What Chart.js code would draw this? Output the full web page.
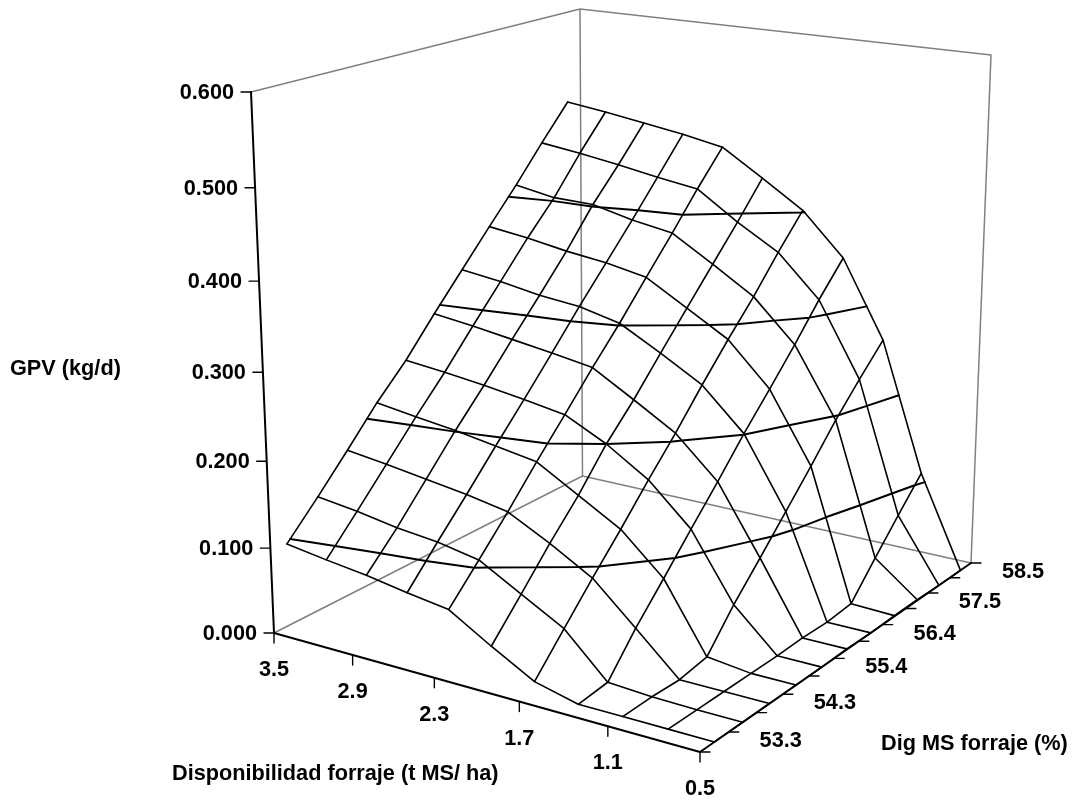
<!DOCTYPE html>
<html lang="es">
<head>
    <meta charset="UTF-8">
    <title>GPV</title>
    <script src="https://cdn.jsdelivr.net/npm/chart.js"></script>
    <style>
        body { margin: 0; background: #fff; }
        canvas { display: block; }
    </style>
</head>
<body>
    <canvas id="grafica" width="1076" height="802"></canvas>
    <script>
        // datos
        const availLevels = [3.5, 3.2, 2.9, 2.6, 2.3, 2.0, 1.7, 1.4, 1.1, 0.8, 0.5];
        const digLevels = [53.06, 53.58, 54.09, 54.61, 55.13, 55.65, 56.17, 56.69, 57.21, 57.72, 58.24];
        // una fila por cada nivel de disponibilidad, una columna por cada nivel de digestibilidad
        const gpvGrid = [
            [0.096, 0.134, 0.173, 0.214, 0.250, 0.292, 0.332, 0.372, 0.411, 0.452, 0.492],
            [0.089, 0.128, 0.167, 0.207, 0.245, 0.286, 0.326, 0.366, 0.403, 0.446, 0.486],
            [0.083, 0.120, 0.160, 0.201, 0.239, 0.279, 0.318, 0.358, 0.402, 0.439, 0.479],
            [0.075, 0.115, 0.153, 0.193, 0.232, 0.272, 0.313, 0.352, 0.391, 0.431, 0.472],
            [0.068, 0.106, 0.144, 0.185, 0.224, 0.264, 0.302, 0.343, 0.383, 0.424, 0.463],
            [0.039, 0.079, 0.119, 0.157, 0.200, 0.236, 0.276, 0.315, 0.354, 0.392, 0.433],
            [0.012, 0.052, 0.091, 0.129, 0.169, 0.207, 0.248, 0.287, 0.324, 0.364, 0.402],
            [0.000, 0.004, 0.046, 0.084, 0.123, 0.161, 0.201, 0.238, 0.276, 0.316, 0.353],
            [0.000, 0.001, 0.000, 0.006, 0.047, 0.083, 0.120, 0.157, 0.196, 0.230, 0.263],
            [0.000, 0.000, 0.000, 0.000, 0.000, 0.001, 0.000, 0.003, 0.040, 0.075, 0.110],
            [0.000, 0.000, 0.000, 0.000, 0.000, 0.001, 0.000, 0.001, 0.001, 0.000, 0.000]
        ];
        const contourLevels = [0.1, 0.2, 0.3, 0.4, 0.5];
        const gpvTicks = [0, 0.1, 0.2, 0.3, 0.4, 0.5, 0.6];
        const gpvTickLabels = ['0.000', '0.100', '0.200', '0.300', '0.400', '0.500', '0.600'];
        const availTicks = [3.5, 2.9, 2.3, 1.7, 1.1, 0.5];
        const availTickLabels = ['3.5', '2.9', '2.3', '1.7', '1.1', '0.5'];
        const digTicks = [52.8, 53.32, 53.84, 54.35, 54.87, 55.39, 55.91, 56.43, 56.95, 57.46, 57.98, 58.5];
        const digTickLabels = ['', '53.3', '', '54.3', '', '55.4', '', '56.4', '', '57.5', '', '58.5'];

        // vista de la caja: esquinas del piso y del techo en pixeles
        const floorCorners = [[274, 633], [700, 752], [971, 563], [582.5, 476]];
        const topCorners = [[251, 92], [702, 155], [991, 55], [580, 9]];
        const gpvMax = 0.6, availMax = 3.5, availMin = 0.5, digMin = 52.8, digMax = 58.5;

        function quadMap(corners) {
            const [A, B, C, D] = corners;
            const sx = A[0] - B[0] + C[0] - D[0], sy = A[1] - B[1] + C[1] - D[1];
            const dx1 = B[0] - C[0], dx2 = D[0] - C[0], dy1 = B[1] - C[1], dy2 = D[1] - C[1];
            const det = dx1 * dy2 - dx2 * dy1;
            const g = (sx * dy2 - dx2 * sy) / det, h = (dx1 * sy - sx * dy1) / det;
            const a = B[0] - A[0] + g * B[0], b = D[0] - A[0] + h * D[0];
            const d = B[1] - A[1] + g * B[1], e = D[1] - A[1] + h * D[1];
            return function (u, v) {
                const w = g * u + h * v + 1;
                return [(a * u + b * v + A[0]) / w, (d * u + e * v + A[1]) / w];
            };
        }
        const floorMap = quadMap(floorCorners);
        const topMap = quadMap(topCorners);

        function project(avail, dig, gpv) {
            const u = (availMax - avail) / (availMax - availMin);
            const v = (dig - digMin) / (digMax - digMin);
            const t = gpv / gpvMax;
            const s = 0.93 * t / (1 - 0.07 * t);
            const p0 = floorMap(u, v), p1 = topMap(u, v);
            return { x: p0[0] + s * (p1[0] - p0[0]), y: p0[1] + s * (p1[1] - p0[1]) };
        }

        function lineDs(points, color, width, order) {
            return {
                data: points, borderColor: color, borderWidth: width, order: order,
                showLine: true, pointRadius: 0, tension: 0, spanGaps: false,
                borderCapStyle: 'round', borderJoinStyle: 'round', clip: false
            };
        }

        const gap = { x: null, y: null };
        const datasets = [];

        // paredes grises
        const wallPoints = [
            project(3.5, digMin, 0), project(3.5, digMax, 0), project(0.5, digMax, 0), gap,
            project(3.5, digMin, gpvMax), project(3.5, digMax, gpvMax), project(0.5, digMax, gpvMax), project(0.5, digMax, 0), gap,
            project(3.5, digMax, 0), project(3.5, digMax, gpvMax)
        ];
        datasets.push(lineDs(wallPoints, '#808080', 1.5, 4));

        // malla de la superficie
        availLevels.forEach(function (a, i) {
            datasets.push(lineDs(digLevels.map(function (d, j) { return project(a, d, gpvGrid[i][j]); }), '#000', 1.6, 3));
        });
        digLevels.forEach(function (d, j) {
            datasets.push(lineDs(availLevels.map(function (a, i) { return project(a, d, gpvGrid[i][j]); }), '#000', 1.6, 3));
        });

        // curvas de nivel sobre la malla
        function crossing(i1, j1, i2, j2, level) {
            const z1 = gpvGrid[i1][j1], z2 = gpvGrid[i2][j2];
            if ((z1 < level) === (z2 < level)) return null;
            const f = (level - z1) / (z2 - z1);
            const a = availLevels[i1] + f * (availLevels[i2] - availLevels[i1]);
            const d = digLevels[j1] + f * (digLevels[j2] - digLevels[j1]);
            return project(a, d, level);
        }
        contourLevels.forEach(function (level) {
            const pts = [];
            for (let i = 0; i < availLevels.length - 1; i++) {
                for (let j = 0; j < digLevels.length - 1; j++) {
                    const hits = [
                        crossing(i, j, i + 1, j, level), crossing(i + 1, j, i + 1, j + 1, level),
                        crossing(i + 1, j + 1, i, j + 1, level), crossing(i, j + 1, i, j, level)
                    ].filter(Boolean);
                    if (hits.length === 2) pts.push(hits[0], hits[1], gap);
                }
            }
            datasets.push(lineDs(pts, '#000', 2, 2));
        });

        // ejes negros y marcas
        datasets.push(lineDs([project(3.5, digMin, gpvMax), project(3.5, digMin, 0), project(0.5, digMin, 0), project(0.5, digMax, 0)], '#000', 2, 1));
        const tickLen = 10;
        const tickPoints = [];
        gpvTicks.forEach(function (g) {
            const p = project(3.5, digMin, g);
            tickPoints.push(p, { x: p.x - tickLen, y: p.y }, gap);
        });
        availTicks.forEach(function (a) {
            const p = project(a, digMin, 0);
            tickPoints.push(p, { x: p.x, y: p.y + tickLen }, gap);
        });
        digTicks.forEach(function (d) {
            const p = project(0.5, d, 0);
            tickPoints.push(p, { x: p.x + tickLen, y: p.y }, gap);
        });
        datasets.push(lineDs(tickPoints, '#000', 1.4, 1));

        const labelsPlugin = {
            id: 'labels3d',
            afterDraw: function (chart) {
                const ctx = chart.ctx, sx = chart.scales.x, sy = chart.scales.y;
                function put(text, x, y, align) {
                    ctx.textAlign = align;
                    ctx.fillText(text, sx.getPixelForValue(x), sy.getPixelForValue(y));
                }
                ctx.save();
                ctx.fillStyle = '#000';
                ctx.font = 'bold 21.7px "Liberation Sans", Arial, sans-serif';
                ctx.textBaseline = 'middle';
                gpvTicks.forEach(function (g, k) {
                    const p = project(3.5, digMin, g);
                    put(gpvTickLabels[k], p.x - 17, p.y + 1, 'right');
                });
                availTicks.forEach(function (a, k) {
                    const p = project(a, digMin, 0);
                    put(availTickLabels[k], p.x, p.y + 37, 'center');
                });
                digTicks.forEach(function (d, k) {
                    if (!digTickLabels[k]) return;
                    const p = project(0.5, d, 0);
                    put(digTickLabels[k], p.x + 52, p.y + 9, 'center');
                });
                put('GPV (kg/d)', 10, 369, 'left');
                put('Disponibilidad forraje (t MS/ ha)', 172, 774, 'left');
                put('Dig MS forraje (%)', 881, 744, 'left');
                ctx.restore();
            }
        };

        new Chart(document.getElementById('grafica').getContext('2d'), {
            type: 'scatter',
            data: { datasets: datasets },
            plugins: [labelsPlugin],
            options: {
                responsive: false,
                animation: false,
                events: [],
                layout: { padding: 0 },
                scales: {
                    x: { type: 'linear', min: 0, max: 1076, display: false },
                    y: { type: 'linear', min: 0, max: 802, reverse: true, display: false }
                },
                plugins: { legend: { display: false }, tooltip: { enabled: false }, title: { display: false } }
            }
        });
    </script>
</body>
</html>
